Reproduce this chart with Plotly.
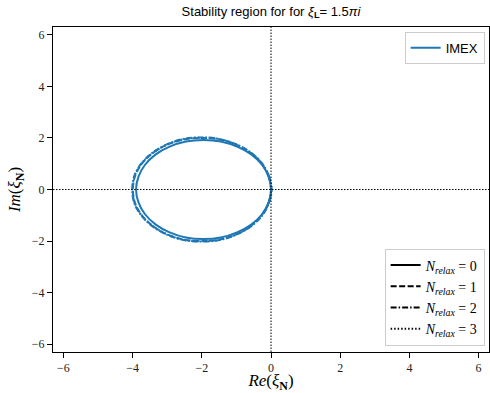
import plotly.graph_objects as go

# Boundary points of the stability region, upper half then lower half
re_n0 = [0.00, -0.07, -0.26, -0.57, -0.98, -1.45, -1.95, -2.46, -2.93, -3.33, -3.64, -3.83, -3.90,
         -3.83, -3.64, -3.33, -2.93, -2.46, -1.95, -1.45, -0.98, -0.57, -0.26, -0.07, 0.00]
im_n0 = [0.00, 0.50, 0.96, 1.36, 1.66, 1.86, 1.92, 1.86, 1.66, 1.36, 0.96, 0.50, 0.00,
         -0.50, -0.96, -1.36, -1.66, -1.86, -1.92, -1.86, -1.66, -1.36, -0.96, -0.50, 0.00]

re_n1 = [0.00, -0.07, -0.27, -0.59, -1.00, -1.48, -2.00, -2.52, -3.00, -3.41, -3.73, -3.93, -3.99,
         -3.93, -3.73, -3.41, -3.00, -2.52, -2.00, -1.48, -1.00, -0.59, -0.27, -0.07, 0.00]
im_n1 = [0.00, 0.52, 1.00, 1.42, 1.74, 1.94, 2.00, 1.94, 1.74, 1.42, 1.00, 0.52, 0.00,
         -0.52, -1.00, -1.42, -1.74, -1.94, -2.00, -1.94, -1.74, -1.42, -1.00, -0.52, 0.00]

re_n2 = [0.02, -0.06, -0.26, -0.58, -1.00, -1.49, -2.01, -2.53, -3.01, -3.42, -3.74, -3.95, -4.01,
         -3.95, -3.74, -3.42, -3.01, -2.53, -2.01, -1.49, -1.00, -0.58, -0.26, -0.06, 0.02]
im_n2 = [0.00, 0.53, 1.02, 1.43, 1.75, 1.96, 2.02, 1.96, 1.75, 1.43, 1.02, 0.53, 0.00,
         -0.53, -1.02, -1.43, -1.75, -1.96, -2.02, -1.96, -1.75, -1.43, -1.02, -0.53, 0.00]

re_n3 = [0.01, -0.07, -0.27, -0.59, -1.01, -1.49, -2.00, -2.52, -3.00, -3.41, -3.74, -3.94, -4.00,
         -3.94, -3.74, -3.41, -3.00, -2.52, -2.00, -1.49, -1.01, -0.59, -0.27, -0.07, 0.01]
im_n3 = [0.00, 0.52, 1.01, 1.42, 1.74, 1.95, 2.01, 1.95, 1.74, 1.42, 1.01, 0.52, 0.00,
         -0.52, -1.01, -1.42, -1.74, -1.95, -2.01, -1.95, -1.74, -1.42, -1.01, -0.52, 0.00]

DASHES = ["solid", "6px,2.5px", "6px,2px,1.5px,2px", "1.5px,2px"]
curves = [(re_n0, im_n0), (re_n1, im_n1), (re_n2, im_n2), (re_n3, im_n3)]
relax_labels = ["0", "1", "2", "3"]
method_name = "IMEX"
ticks = [-6, -4, -2, 0, 2, 4, 6]
axis_range = [-6.3, 6.3]

BLUE = "#1f77b4"
fig = go.Figure()

for i, ((xs, ys), dash) in enumerate(zip(curves, DASHES)):
    fig.add_trace(go.Scatter(
        x=xs, y=ys, mode="lines",
        line=dict(color=BLUE, width=2, dash=dash, shape="spline", smoothing=1.0),
        name=method_name, showlegend=(i == 0), legend="legend"))

for dash, lab in zip(DASHES, relax_labels):
    fig.add_trace(go.Scatter(
        x=[None], y=[None], mode="lines",
        line=dict(color="black", width=2, dash=dash),
        name=f"<i>N<sub>relax</sub></i> = {lab}", legend="legend2"))

fig.add_vline(x=0, line=dict(color="black", width=1, dash="1.5px,1.5px"))
fig.add_hline(y=0, line=dict(color="black", width=1, dash="1.5px,1.5px"))

axis_common = dict(
    range=axis_range, tickvals=ticks, ticktext=[("−" + str(-t)) if t < 0 else str(t) for t in ticks],
    showgrid=False, zeroline=False, showline=True, linecolor="black", linewidth=1,
    mirror=True, ticks="outside", ticklen=5, tickwidth=1, tickcolor="black",
    tickfont=dict(family="Liberation Serif", size=12, color="#222"),
)

fig.update_layout(
    width=490, height=393,
    margin=dict(l=53, r=1, t=27, b=41),
    paper_bgcolor="white", plot_bgcolor="white",
    title=dict(text="Stability region for for <i>ξ</i><sub><b>L</b></sub>= 1.5<i>πi</i>",
               x=0.553, xanchor="center", y=0.972, yanchor="middle",
               font=dict(family="Liberation Sans", size=13, color="black")),
    xaxis=dict(**axis_common,
               title=dict(text="<i>Re</i>(<i>ξ</i><sub><b>N</b></sub>)", standoff=5,
                          font=dict(family="Liberation Serif", size=17, color="black"))),
    yaxis=dict(**axis_common,
               title=dict(text="<i>Im</i>(<i>ξ</i><sub><b>N</b></sub>)", standoff=6,
                          font=dict(family="Liberation Serif", size=17, color="black"))),
    legend=dict(x=0.99, y=0.985, xanchor="right", yanchor="top",
                bgcolor="rgba(255,255,255,0.8)", bordercolor="#cccccc", borderwidth=1,
                font=dict(family="Liberation Sans", size=13, color="black"),
                tracegroupgap=0),
    legend2=dict(x=0.99, y=0.02, xanchor="right", yanchor="bottom",
                 bgcolor="rgba(255,255,255,0.8)", bordercolor="#cccccc", borderwidth=1,
                 font=dict(family="Liberation Serif", size=14, color="black"),
                 tracegroupgap=0),
)

fig.write_html("out.html")
